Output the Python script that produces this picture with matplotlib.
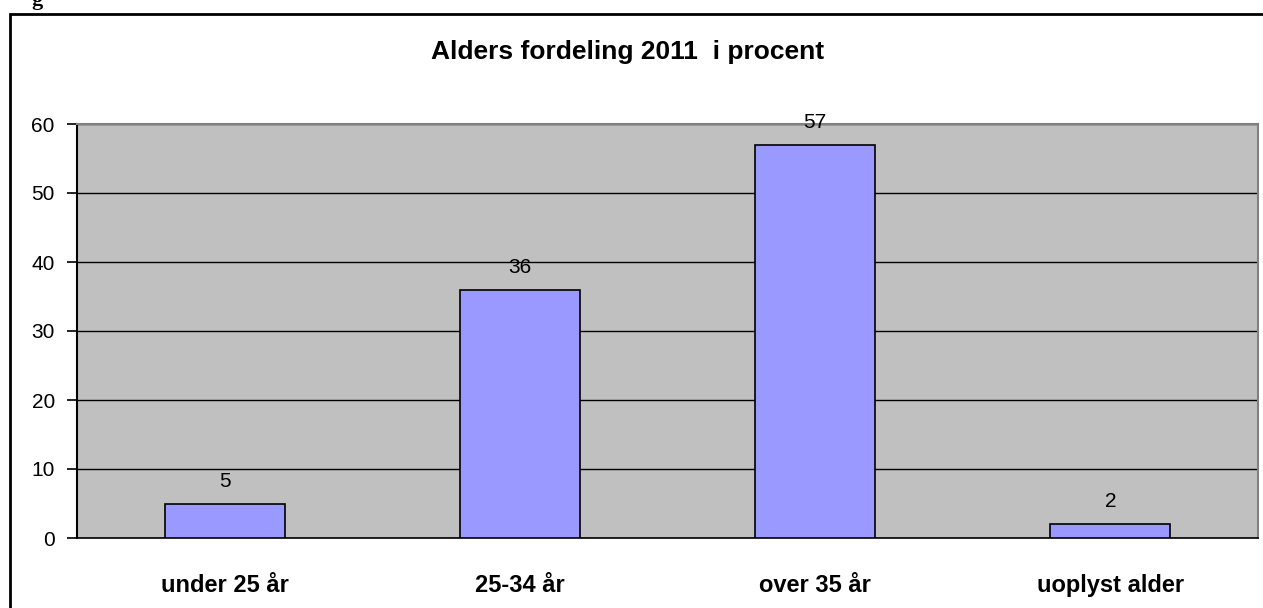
import matplotlib.pyplot as plt
from matplotlib.patches import Rectangle

categories = ['under 25 år', '25-34 år', 'over 35 år', 'uoplyst alder']
values = [5, 36, 57, 2]
yticks = [0, 10, 20, 30, 40, 50, 60]

plt.rcParams['font.family'] = ['Liberation Sans', 'DejaVu Sans']

fig = plt.figure(figsize=(12.63, 6.08), dpi=100)
W, H = 1263, 608

# outer chart border (cut off at right and bottom)
fig.patches.append(Rectangle((10 / W, -0.05), 1.2, (608 - 14) / H + 0.05,
                             transform=fig.transFigure, fill=False,
                             edgecolor='black', linewidth=2))
fig.text(37 / W, 1.0, 'g', fontsize=16, fontweight='bold', family='Liberation Serif',
         ha='center', va='center')

ax = fig.add_axes([77 / W, (608 - 538) / H, (1258 - 77) / W, (538 - 124) / H])
ax.set_facecolor('#C0C0C0')

x = range(len(categories))
bars = ax.bar(x, values, width=0.406, color='#9999FF', edgecolor='black', linewidth=1.2, zorder=3)
for xi, v in zip(x, values):
    ax.annotate(str(v), (xi, v), xytext=(0, 16), textcoords='offset points',
                ha='center', va='center', fontsize=15, zorder=4)

ax.set_xlim(-0.5, len(categories) - 0.5)
ax.set_ylim(0, 60)
ax.set_yticks(yticks)
ax.tick_params(axis='y', labelsize=15, length=7, width=1.2, direction='out', pad=9)
ax.tick_params(axis='x', length=0, pad=26)
ax.set_xticks(list(x))
ax.set_xticklabels(categories, fontsize=17, fontweight='bold')
ax.yaxis.grid(True, color='black', linewidth=1)
ax.set_axisbelow(True)

ax.spines['left'].set_color('black')
ax.spines['left'].set_linewidth(1.5)
ax.spines['bottom'].set_color('black')
ax.spines['bottom'].set_linewidth(1.2)
ax.spines['top'].set_color('#808080')
ax.spines['top'].set_linewidth(1.5)
ax.spines['right'].set_color('#808080')
ax.spines['right'].set_linewidth(1.5)

fig.text(628 / W, 1 - 52 / H, 'Alders fordeling 2011  i procent', fontsize=19,
         fontweight='bold', ha='center', va='center')

fig.savefig('out.png', dpi=100)
